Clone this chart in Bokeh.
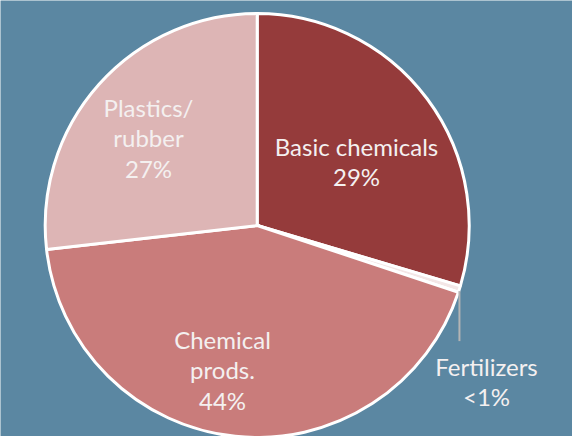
import math
from bokeh.plotting import figure
from bokeh.models import Range1d
from bokeh.core.properties import value
from bokeh.embed import file_html
from bokeh.resources import INLINE

# ---- data ----
categories = ["Basic chemicals", "Fertilizers", "Chemical prods.", "Plastics/ rubber"]
shares = [29.6, 0.5, 43.1, 26.8]
label_lines = [["Basic chemicals", "29%"], ["Fertilizers", "<1%"],
               ["Chemical", "prods.", "44%"], ["Plastics/", "rubber", "27%"]]
colors = ["#953b3b", "#f3e6e6", "#c97c7b", "#ddb5b5"]

BG = "#5b87a2"
W, H = 572, 436
cx, cy = 256.7, H - 225.0
R = 212

p = figure(width=W, height=H, output_backend="svg", toolbar_location=None,
           x_range=Range1d(0, W), y_range=Range1d(0, H),
           x_axis_location=None, y_axis_location=None, min_border=0,
           background_fill_color=BG, border_fill_color=BG, outline_line_color=None)
p.grid.visible = False

total = sum(shares)
starts, ends = [], []
cum = 0.0
for s in shares:
    starts.append(math.pi / 2 - 2 * math.pi * cum / total)
    cum += s
    ends.append(math.pi / 2 - 2 * math.pi * cum / total)

p.wedge(x=[cx] * len(shares), y=[cy] * len(shares), radius=R,
        start_angle=starts, end_angle=ends, direction="clock",
        fill_color=colors, line_color="white", line_width=3)

# leader line for the tiny fertilizer slice
mid_f = (starts[1] + ends[1]) / 2
lx = cx + R * math.cos(mid_f)
ly = cy + R * math.sin(mid_f)
p.segment(x0=[lx], y0=[ly - 2], x1=[lx], y1=[ly - 52], line_color="#b4b4b4", line_width=2)

# label anchors (centre of text block, page pixels)
anchors = [(356, H - 161), (486, H - 381), (222, H - 369), (148, H - 137)]
line_h = 30.5
xs, ys, ts = [], [], []
for (ax, ay), lines in zip(anchors, label_lines):
    n = len(lines)
    for i, t in enumerate(lines):
        xs.append(ax)
        ys.append(ay + (n - 1) / 2 * line_h - i * line_h)
        ts.append(t)

p.text(x=xs, y=ys, text=ts, text_align="center", text_baseline="middle",
       text_color="#f4f0f0", text_font=value("Lato"), text_font_size="24px")

open("out.html", "w").write(file_html(p, INLINE))
